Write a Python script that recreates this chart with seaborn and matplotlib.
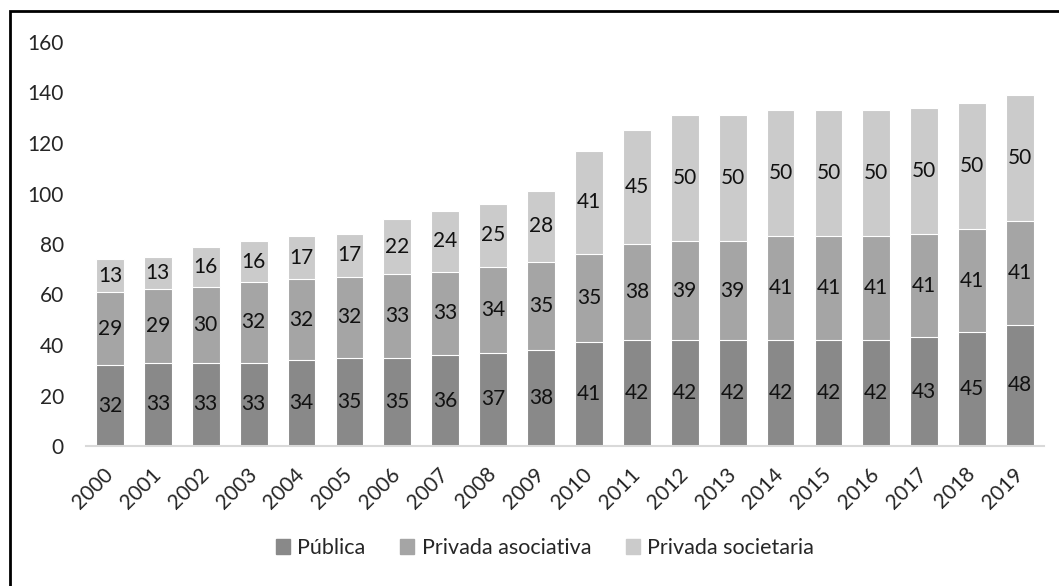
import numpy as np
import pandas as pd
import seaborn as sns
from matplotlib import pyplot as plt
from matplotlib.patches import Rectangle

years = [str(y) for y in range(2000, 2020)]
publica = [32, 33, 33, 33, 34, 35, 35, 36, 37, 38, 41, 42, 42, 42, 42, 42, 42, 43, 45, 48]
asociativa = [29, 29, 30, 32, 32, 32, 33, 33, 34, 35, 35, 38, 39, 39, 41, 41, 41, 41, 41, 41]
societaria = [13, 13, 16, 16, 17, 17, 22, 24, 25, 28, 41, 45, 50, 50, 50, 50, 50, 50, 50, 50]

series_names = ['Pública', 'Privada asociativa', 'Privada societaria']
colors = ['#898989', '#a5a5a5', '#cbcbcb']

sns.set_theme(style='white')
plt.rcParams['font.family'] = ['Lato', 'DejaVu Sans']

fig = plt.figure(figsize=(10.59, 5.86), dpi=100)
ax = fig.add_axes([86 / 1059, 1 - 446 / 586, (1044 - 86) / 1059, (446 - 42) / 586])

df = pd.DataFrame({'year': years, 'Pública': publica,
                   'Privada asociativa': asociativa, 'Privada societaria': societaria})

# stacked bars drawn as overlaid cumulative totals
bottom = np.zeros(len(years))
for k, (name, col) in enumerate(zip(series_names, colors)):
    vals = df[name].values
    sns.barplot(x=df['year'], y=vals + bottom, ax=ax, color=col, width=0.58,
                saturation=1, zorder=-k, legend=False)
    bottom = bottom + vals

for c in ax.containers:
    for p in c:
        p.set_edgecolor('white')
        p.set_linewidth(0.8)

bottom = np.zeros(len(years))
for name in series_names:
    vals = df[name].values
    for i, v in enumerate(vals):
        ax.text(i, bottom[i] + v / 2, str(v), ha='center', va='center',
                fontsize=15, color='#111111')
    bottom = bottom + vals

ax.set_ylim(0, 160)
ax.set_xlim(-0.5, len(years) - 0.5)
ax.set_yticks(range(0, 161, 20))
ax.set_xlabel('')
ax.set_ylabel('')
ax.tick_params(axis='y', labelsize=15, length=0, pad=16)
ax.tick_params(axis='x', labelsize=15, length=0, pad=18)
plt.setp(ax.get_xticklabels(), rotation=45, ha='right', va='center', rotation_mode='anchor')
for s in ['top', 'right', 'left']:
    ax.spines[s].set_visible(False)
ax.spines['bottom'].set_color('#d9d9d9')
ax.spines['bottom'].set_linewidth(1.5)

handles = [Rectangle((0, 0), 1, 1, color=c) for c in colors]
fig.legend(handles, series_names, loc='center', bbox_to_anchor=(545 / 1059, 1 - 548 / 586),
           ncol=3, frameon=False, fontsize=15.5, handlelength=0.65, handleheight=0.65,
           handletextpad=0.35, columnspacing=1.6)

fig.patches.append(Rectangle((10 / 1059, -0.05), 1.05, 1 - 11 / 586 + 0.05, transform=fig.transFigure,
                             fill=False, edgecolor='black', linewidth=2, figure=fig))

fig.savefig('out.png', dpi=100)
